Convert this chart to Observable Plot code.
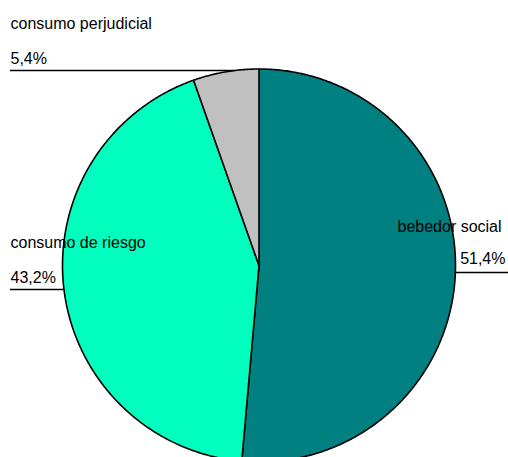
<!DOCTYPE html>
<html>
<head>
<meta charset="utf-8">
<script src="https://cdn.jsdelivr.net/npm/d3@7"></script>
<script src="https://cdn.jsdelivr.net/npm/@observablehq/plot@0.6"></script>
<style>
  html, body { margin: 0; padding: 0; background: #fff; overflow: hidden; }
  #chart svg { display: block; }
</style>
</head>
<body>
<div id="chart"></div>
<script>
// Data
const categories = ["bebedor social", "consumo de riesgo", "consumo perjudicial"];
const values = [51.4, 43.2, 5.4];
const valueLabels = ["51,4%", "43,2%", "5,4%"];
const colors = ["#008080", "#00FFBF", "#C0C0C0"];

// Layout
const W = 508, H = 457;
const cx = 258.5, cy = 265, r = 196.5;
const labelSide = ["right", "left", "left"];
const leaderY = [272, 289, 70];

const arcs = d3.pie().sort(null)(values);

// slice polygons in pixel-space data coordinates
const slicePts = [];
arcs.forEach((a, i) => {
  const name = categories[i];
  slicePts.push({name, x: cx, y: cy});
  const n = Math.max(8, Math.ceil((a.endAngle - a.startAngle) / (Math.PI / 360)));
  for (let k = 0; k <= n; k++) {
    const t = a.startAngle + (a.endAngle - a.startAngle) * k / n;
    slicePts.push({name, x: cx + r * Math.sin(t), y: cy - r * Math.cos(t)});
  }
});

// leader lines & labels
const leaders = [], startText = [], endText = [];
categories.forEach((name, i) => {
  const y = leaderY[i];
  const dx = Math.sqrt(Math.max(0, r * r - (y - cy) * (y - cy)));
  if (labelSide[i] === "left") {
    leaders.push({y, x1: 10, x2: cx - dx});
    startText.push({x: 10, y: y - 42, text: name});
    startText.push({x: 10, y: y - 7, text: valueLabels[i]});
  } else {
    leaders.push({y, x1: cx + dx, x2: W});
    startText.push({x: 397, y: y - 41, text: name});
    endText.push({x: 505, y: y - 9, text: valueLabels[i]});
  }
});

const font = "Liberation Sans, Arial, sans-serif";

const chart = Plot.plot({
  width: W,
  height: H,
  margin: 0,
  style: {fontFamily: font, background: "#fff"},
  x: {domain: [0, W], range: [0, W], axis: null},
  y: {domain: [0, H], range: [0, H], axis: null},
  color: {domain: categories, range: colors},
  marks: [
    Plot.line(slicePts, {
      x: "x", y: "y", z: "name", fill: "name",
      stroke: "#000", strokeWidth: 1.6, curve: "linear-closed", strokeLinejoin: "round"
    }),
    Plot.ruleY(leaders, {y: "y", x1: "x1", x2: "x2", stroke: "#000", strokeWidth: 1.5}),
    Plot.text(startText, {x: "x", y: "y", text: "text", textAnchor: "start", lineAnchor: "bottom", fontSize: 16, fill: "#000"}),
    Plot.text(endText, {x: "x", y: "y", text: "text", textAnchor: "end", lineAnchor: "bottom", fontSize: 16, fill: "#000"})
  ]
});
document.getElementById("chart").appendChild(chart);
</script>
</body>
</html>
